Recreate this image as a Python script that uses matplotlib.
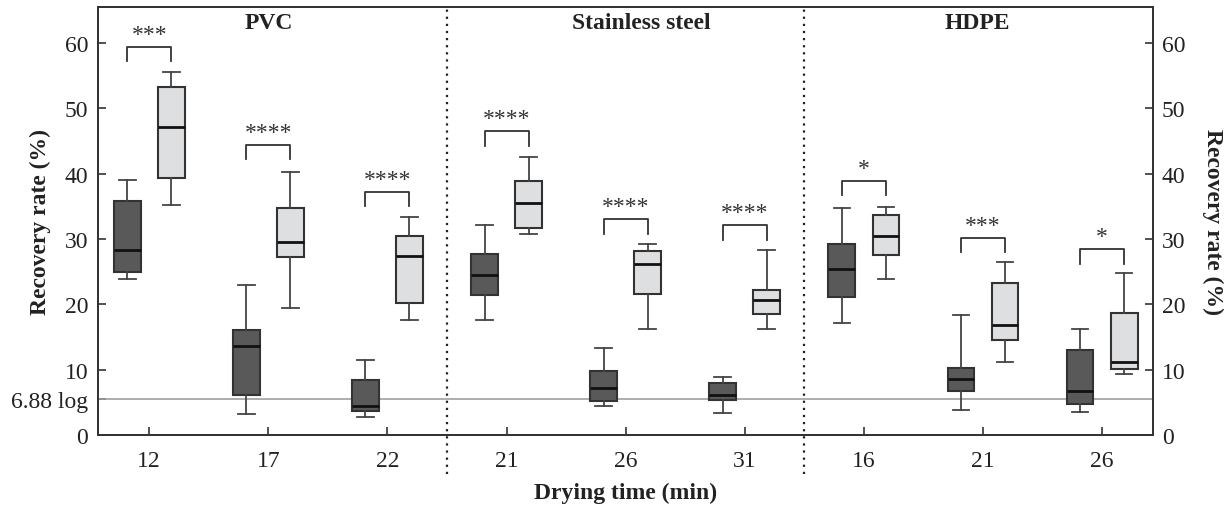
import matplotlib
matplotlib.use('Agg')
import matplotlib.pyplot as plt
from matplotlib.transforms import blended_transform_factory

plt.rcParams['font.family'] = ['Liberation Serif', 'DejaVu Serif']

# drying times (tick labels) and materials
times = ['12', '17', '22', '21', '26', '31', '16', '21', '26']
materials = ['PVC', 'Stainless steel', 'HDPE']

# box statistics: whislo, q1, med, q3, whishi
dark_lo = [23.9, 3.2, 2.7, 17.6, 4.4, 3.3, 17.1, 3.9, 3.5]
dark_q1 = [24.9, 6.2, 3.7, 21.4, 5.2, 5.3, 21.1, 6.8, 4.7]
dark_med = [28.3, 13.6, 4.5, 24.5, 7.2, 6.2, 25.4, 8.5, 6.8]
dark_q3 = [35.8, 16.1, 8.4, 27.7, 9.8, 8.0, 29.2, 10.3, 13.0]
dark_hi = [39.1, 22.9, 11.5, 32.1, 13.3, 8.9, 34.8, 18.3, 16.2]

light_lo = [35.2, 19.5, 17.6, 30.8, 16.2, 16.3, 23.8, 11.1, 9.4]
light_q1 = [39.3, 27.2, 20.2, 31.7, 21.6, 18.5, 27.6, 14.5, 10.1]
light_med = [47.2, 29.5, 27.4, 35.5, 26.2, 20.6, 30.5, 16.8, 11.2]
light_q3 = [53.3, 34.7, 30.4, 38.8, 28.1, 22.2, 33.6, 23.3, 18.7]
light_hi = [55.5, 40.3, 33.3, 42.6, 29.3, 28.3, 34.9, 26.5, 24.8]

# significance brackets
bracket_top = [59.4, 44.4, 37.2, 46.5, 33.0, 32.1, 38.9, 30.2, 28.4]
stars = ['***', '****', '****', '****', '****', '****', '*', '***', '*']

limit_value = 5.55
limit_label = '6.88 log'


def make_stats(lo, q1, med, q3, hi):
    return [dict(whislo=a, q1=b, med=c, q3=d, whishi=e, fliers=[])
            for a, b, c, d, e in zip(lo, q1, med, q3, hi)]


fig = plt.figure(figsize=(12.28, 5.06), dpi=100)
ax = fig.add_axes([0.0798, 0.1383, 0.8594, 0.8459])

pos = list(range(len(times)))
off = 0.185
edge = '#333333'
fs = 17

for stats, shift, fc in [(make_stats(dark_lo, dark_q1, dark_med, dark_q3, dark_hi), -off, '#595959'),
                         (make_stats(light_lo, light_q1, light_med, light_q3, light_hi), off, '#dedfe1')]:
    ax.bxp(stats, positions=[p + shift for p in pos], widths=0.225,
           patch_artist=True, showfliers=False, capwidths=0.14,
           boxprops=dict(facecolor=fc, edgecolor=edge, linewidth=1.5),
           medianprops=dict(color='#111111', linewidth=2),
           whiskerprops=dict(color='#444444', linewidth=1.3),
           capprops=dict(color='#444444', linewidth=1.3),
           manage_ticks=False, zorder=3)

# brackets and stars
for p, top, s in zip(pos, bracket_top, stars):
    x0, x1 = p - off, p + off
    ax.plot([x0, x0, x1, x1], [top - 2.2, top, top, top - 2.2],
            color='#333333', lw=1.3, zorder=4)
    ax.text(p, top + 0.3, s, ha='center', va='bottom', fontsize=fs,
            color='#333333')

# detection limit line
ax.axhline(limit_value, color='#a0a0a0', lw=1.2, zorder=2)

# dotted separators between materials
trans = blended_transform_factory(ax.transData, ax.transAxes)
for xs in [2.5, 5.5]:
    ax.plot([xs, xs], [-0.09, 1.0], transform=trans, color='#222222',
            ls=(0, (1, 2.2)), lw=1.6, clip_on=False, zorder=5)

# material titles
for xm, name in zip([1, 4.13, 6.95], materials):
    ax.text(xm, 63.2, name, ha='center', va='center', fontsize=fs,
            fontweight='bold', color='#222222')

ax.set_xlim(-0.43, 8.43)
ax.set_ylim(0, 65.5)

ax.set_xticks(pos)
ax.set_xticklabels(times)
yt = [0, limit_value, 10, 20, 30, 40, 50, 60]
ax.set_yticks(yt)
ax.set_yticklabels(['0', limit_label, '10', '20', '30', '40', '50', '60'])
ax.tick_params(axis='x', direction='in', length=6, width=1.2, pad=11,
               labelsize=fs, colors='#333333', labelcolor='#222222')
ax.tick_params(axis='y', direction='in', length=6, width=1.2, pad=7,
               labelsize=fs, colors='#333333', labelcolor='#222222')
for sp in ax.spines.values():
    sp.set_color('#333333')
    sp.set_linewidth(1.3)

ax.set_xlabel('Drying time (min)', fontsize=fs, fontweight='bold',
              color='#222222', va='center')
ax.xaxis.set_label_coords(0.5, -0.133)
ax.set_ylabel('Recovery rate (%)', fontsize=fs, fontweight='bold',
              color='#222222', va='center')
ax.yaxis.set_label_coords(-0.055, 0.5)

ax2 = ax.twinx()
ax2.set_ylim(0, 65.5)
ax2.set_yticks([0, 10, 20, 30, 40, 50, 60])
ax2.tick_params(axis='y', direction='in', length=6, width=1.2, pad=6,
                labelsize=fs, colors='#333333', labelcolor='#222222')
ax2.set_ylabel('Recovery rate (%)', fontsize=fs, fontweight='bold',
               rotation=-90, color='#222222', va='center')
ax2.yaxis.set_label_coords(1.056, 0.5)
for sp in ax2.spines.values():
    sp.set_color('#333333')
    sp.set_linewidth(1.3)

fig.savefig('out.png', dpi=100)
